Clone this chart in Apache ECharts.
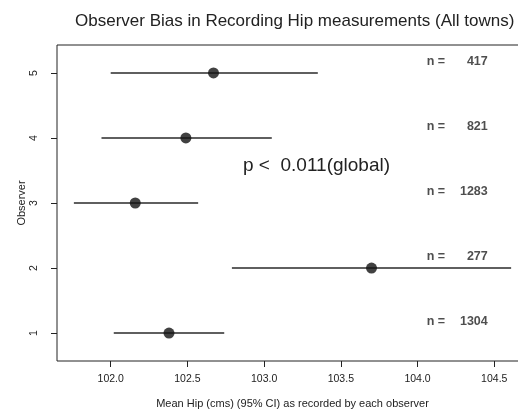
<!DOCTYPE html>
<html>
<head>
<meta charset="utf-8">
<script src="https://cdn.jsdelivr.net/npm/echarts@6/dist/echarts.min.js"></script>
<style>html,body{margin:0;padding:0;background:#fff;}#c{width:518px;height:410px;}</style>
</head>
<body>
<div id="c"></div>
<script>
var observers = [1, 2, 3, 4, 5];
var meanHip = [102.38, 103.70, 102.16, 102.49, 102.67];
var ciLow = [102.02, 102.79, 101.76, 101.94, 102.00];
var ciHigh = [102.74, 104.61, 102.57, 103.05, 103.35];
var nCounts = [1304, 277, 1283, 821, 417];
var xTicks = [102.0, 102.5, 103.0, 103.5, 104.0, 104.5];
var yTicks = [1, 2, 3, 4, 5];

var FONT = '"Liberation Sans", Arial, sans-serif';
var chart = echarts.init(document.getElementById('c'));

var errData = observers.map(function (o, i) { return [ciLow[i], ciHigh[i], o]; });
var ptData = observers.map(function (o, i) { return [meanHip[i], o]; });
var nData = observers.map(function (o, i) { return { value: [104.06, o + 0.17], n: nCounts[i] }; });

chart.setOption({
  animation: false,
  backgroundColor: '#fff',
  title: {
    text: 'Observer Bias in Recording Hip measurements (All towns)',
    left: 70, top: 8,
    textStyle: { fontFamily: FONT, fontSize: 17, fontWeight: 'normal', color: '#222' }
  },
  grid: { left: 57, top: 45, height: 316, width: 471, outerBoundsMode: 'none', containLabel: false,
    show: true, borderColor: '#222', borderWidth: 1, backgroundColor: 'transparent' },
  xAxis: {
    type: 'value', min: 101.65, max: 104.72,
    name: 'Mean Hip (cms) (95% CI) as recorded by each observer',
    nameLocation: 'middle', nameGap: 37, nameMoveOverlap: false,
    nameTextStyle: { fontFamily: FONT, fontSize: 11, color: '#222' },
    axisLine: { show: false },
    splitLine: { show: false },
    axisTick: { show: true, length: 6, lineStyle: { color: '#222' }, customValues: xTicks },
    axisLabel: { fontFamily: FONT, fontSize: 10.5, color: '#222', margin: 13, customValues: xTicks,
      formatter: function (v) { return v.toFixed(1); } }
  },
  yAxis: {
    type: 'value', min: 0.57, max: 5.43,
    name: 'Observer', nameLocation: 'middle', nameGap: 30, nameRotate: 90, nameMoveOverlap: false,
    nameTextStyle: { fontFamily: FONT, fontSize: 11, color: '#222' },
    axisLine: { show: false },
    splitLine: { show: false },
    axisTick: { show: true, length: 6, lineStyle: { color: '#222' }, customValues: yTicks },
    axisLabel: { fontFamily: FONT, fontSize: 10.5, color: '#222', rotate: 90, margin: 17, customValues: yTicks }
  },
  graphic: [{
    type: 'text', left: 243, top: 156,
    style: { text: 'p <  0.011(global)', fontFamily: FONT, fontSize: 19, fill: '#222' }
  }],
  series: [{
    type: 'custom',
    data: errData,
    renderItem: function (params, api) {
      var a = api.coord([api.value(0), api.value(2)]);
      var b = api.coord([api.value(1), api.value(2)]);
      return { type: 'line', shape: { x1: a[0], y1: a[1], x2: b[0], y2: b[1] },
        style: { stroke: '#2a2a2a', lineWidth: 1.4 } };
    },
    encode: { x: [0, 1], y: 2 },
    silent: true
  }, {
    type: 'scatter',
    data: ptData,
    symbol: 'circle', symbolSize: 11,
    itemStyle: { color: '#111' }
  }, {
    type: 'scatter',
    data: nData,
    symbolSize: 0,
    label: {
      show: true, position: 'right', distance: 0,
      formatter: function (p) { return '{a|n =}{b|' + p.data.n + '}'; },
      rich: {
        a: { fontFamily: FONT, fontSize: 12.5, fontWeight: 'bold', color: '#222', width: 33 },
        b: { fontFamily: FONT, fontSize: 12.5, fontWeight: 'bold', color: '#222', width: 28, align: 'right' }
      }
    }
  }]
});
</script>
</body>
</html>
